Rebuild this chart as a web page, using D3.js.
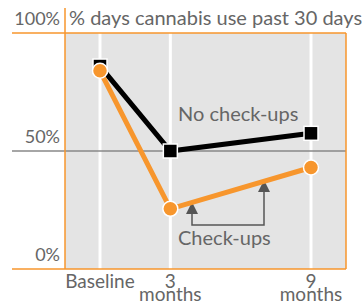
<!DOCTYPE html>
<html>
<head>
<meta charset="utf-8">
<script src="https://cdn.jsdelivr.net/npm/d3@7"></script>
<style>
  body { margin: 0; background: #fff; }
  text { font-family: Lato, "Open Sans", sans-serif; fill: #666; }
</style>
</head>
<body>
<script>
// data
const months = [0, 3, 9];
const monthLabels = [["Baseline"], ["3", "months"], ["9", "months"]];
const noCheckups = [0.86, 0.50, 0.575];
const checkups = [0.84, 0.255, 0.43];
const yTicks = [0, 0.5, 1];

const width = 363, height = 302;
const orange = "#f7962d";

const svg = d3.select("body").append("svg")
  .attr("width", width)
  .attr("height", height);

const plotL = 65, plotR = 346, plotT = 33, plotB = 269;

const x = d3.scaleLinear().domain([0, 9]).range([100, 311]);
const y = d3.scaleLinear().domain([0, 1]).range([plotB, plotT]);

// plot background
svg.append("rect")
  .attr("x", plotL).attr("y", plotT)
  .attr("width", plotR - plotL).attr("height", plotB - plotT)
  .attr("fill", "#e4e4e4");

// vertical grid
svg.selectAll("line.vgrid").data(months).enter().append("line")
  .attr("class", "vgrid")
  .attr("x1", d => x(d)).attr("x2", d => x(d))
  .attr("y1", plotT).attr("y2", plotB)
  .attr("stroke", "#fff").attr("stroke-width", 3);

// 50% line
svg.append("line")
  .attr("x1", 12).attr("x2", plotR)
  .attr("y1", y(0.5)).attr("y2", y(0.5))
  .attr("stroke", "#888").attr("stroke-width", 1.5);

// orange frame
svg.append("line").attr("x1", plotL).attr("x2", plotL).attr("y1", 8).attr("y2", plotB)
  .attr("stroke", orange).attr("stroke-width", 1.5);
svg.append("line").attr("x1", plotR).attr("x2", plotR).attr("y1", plotT).attr("y2", plotB)
  .attr("stroke", orange).attr("stroke-width", 1.5);
svg.append("line").attr("x1", 12).attr("x2", plotR).attr("y1", plotT).attr("y2", plotT)
  .attr("stroke", orange).attr("stroke-width", 1.5);
svg.append("line").attr("x1", 12).attr("x2", plotR).attr("y1", plotB).attr("y2", plotB)
  .attr("stroke", orange).attr("stroke-width", 1.5);

// y labels
svg.selectAll("text.ytick").data(yTicks).enter().append("text")
  .attr("class", "ytick")
  .attr("x", 60)
  .attr("y", d => y(d) - 8)
  .attr("text-anchor", "end")
  .attr("font-size", 18)
  .text(d => d3.format(".0%")(d));

// title
svg.append("text")
  .attr("x", 69).attr("y", 25)
  .attr("font-size", 20)
  .text("% days cannabis use past 30 days");

// x labels
const xl = svg.selectAll("text.xtick").data(months).enter().append("text")
  .attr("class", "xtick")
  .attr("text-anchor", "middle")
  .attr("font-size", 19);
xl.selectAll("tspan").data((d, i) => monthLabels[i].map(s => ({m: d, s}))).enter().append("tspan")
  .attr("x", d => x(d.m))
  .attr("y", (d, i) => 288 + i * 13)
  .text(d => d.s);

const line = d3.line().x((d, i) => x(months[i])).y(d => y(d));

// annotation arrows (behind lines)
const arrowA = {x: 192, tip: 202};
const arrowB = {x: 264, tip: 180};
const bracketY = 225;
svg.append("path")
  .attr("d", `M${arrowA.x},${arrowA.tip + 8}V${bracketY}H${arrowB.x}V${arrowB.tip + 8}`)
  .attr("fill", "none").attr("stroke", "#555").attr("stroke-width", 1.5);
[arrowA, arrowB].forEach(a => {
  svg.append("path")
    .attr("d", `M${a.x},${a.tip}L${a.x - 6},${a.tip + 12}L${a.x + 6},${a.tip + 12}Z`)
    .attr("fill", "#555");
});

// no check-ups
svg.append("path").datum(noCheckups)
  .attr("d", line).attr("fill", "none")
  .attr("stroke", "#000").attr("stroke-width", 5);
svg.selectAll("rect.sq").data(noCheckups).enter().append("rect")
  .attr("class", "sq")
  .attr("x", (d, i) => x(months[i]) - 7).attr("y", d => y(d) - 7)
  .attr("width", 14).attr("height", 14)
  .attr("fill", "#000").attr("stroke", "#fff").attr("stroke-width", 1.5);

// check-ups
svg.append("path").datum(checkups)
  .attr("d", line).attr("fill", "none")
  .attr("stroke", orange).attr("stroke-width", 5);
svg.selectAll("circle.dot").data(checkups).enter().append("circle")
  .attr("class", "dot")
  .attr("cx", (d, i) => x(months[i])).attr("cy", d => y(d))
  .attr("r", 7.5)
  .attr("fill", orange).attr("stroke", "#fff").attr("stroke-width", 1.5);

// series labels
svg.append("text").attr("x", 178).attr("y", 121).attr("font-size", 20).text("No check-ups");
svg.append("text").attr("x", 178).attr("y", 245).attr("font-size", 20).text("Check-ups");
</script>
</body>
</html>
